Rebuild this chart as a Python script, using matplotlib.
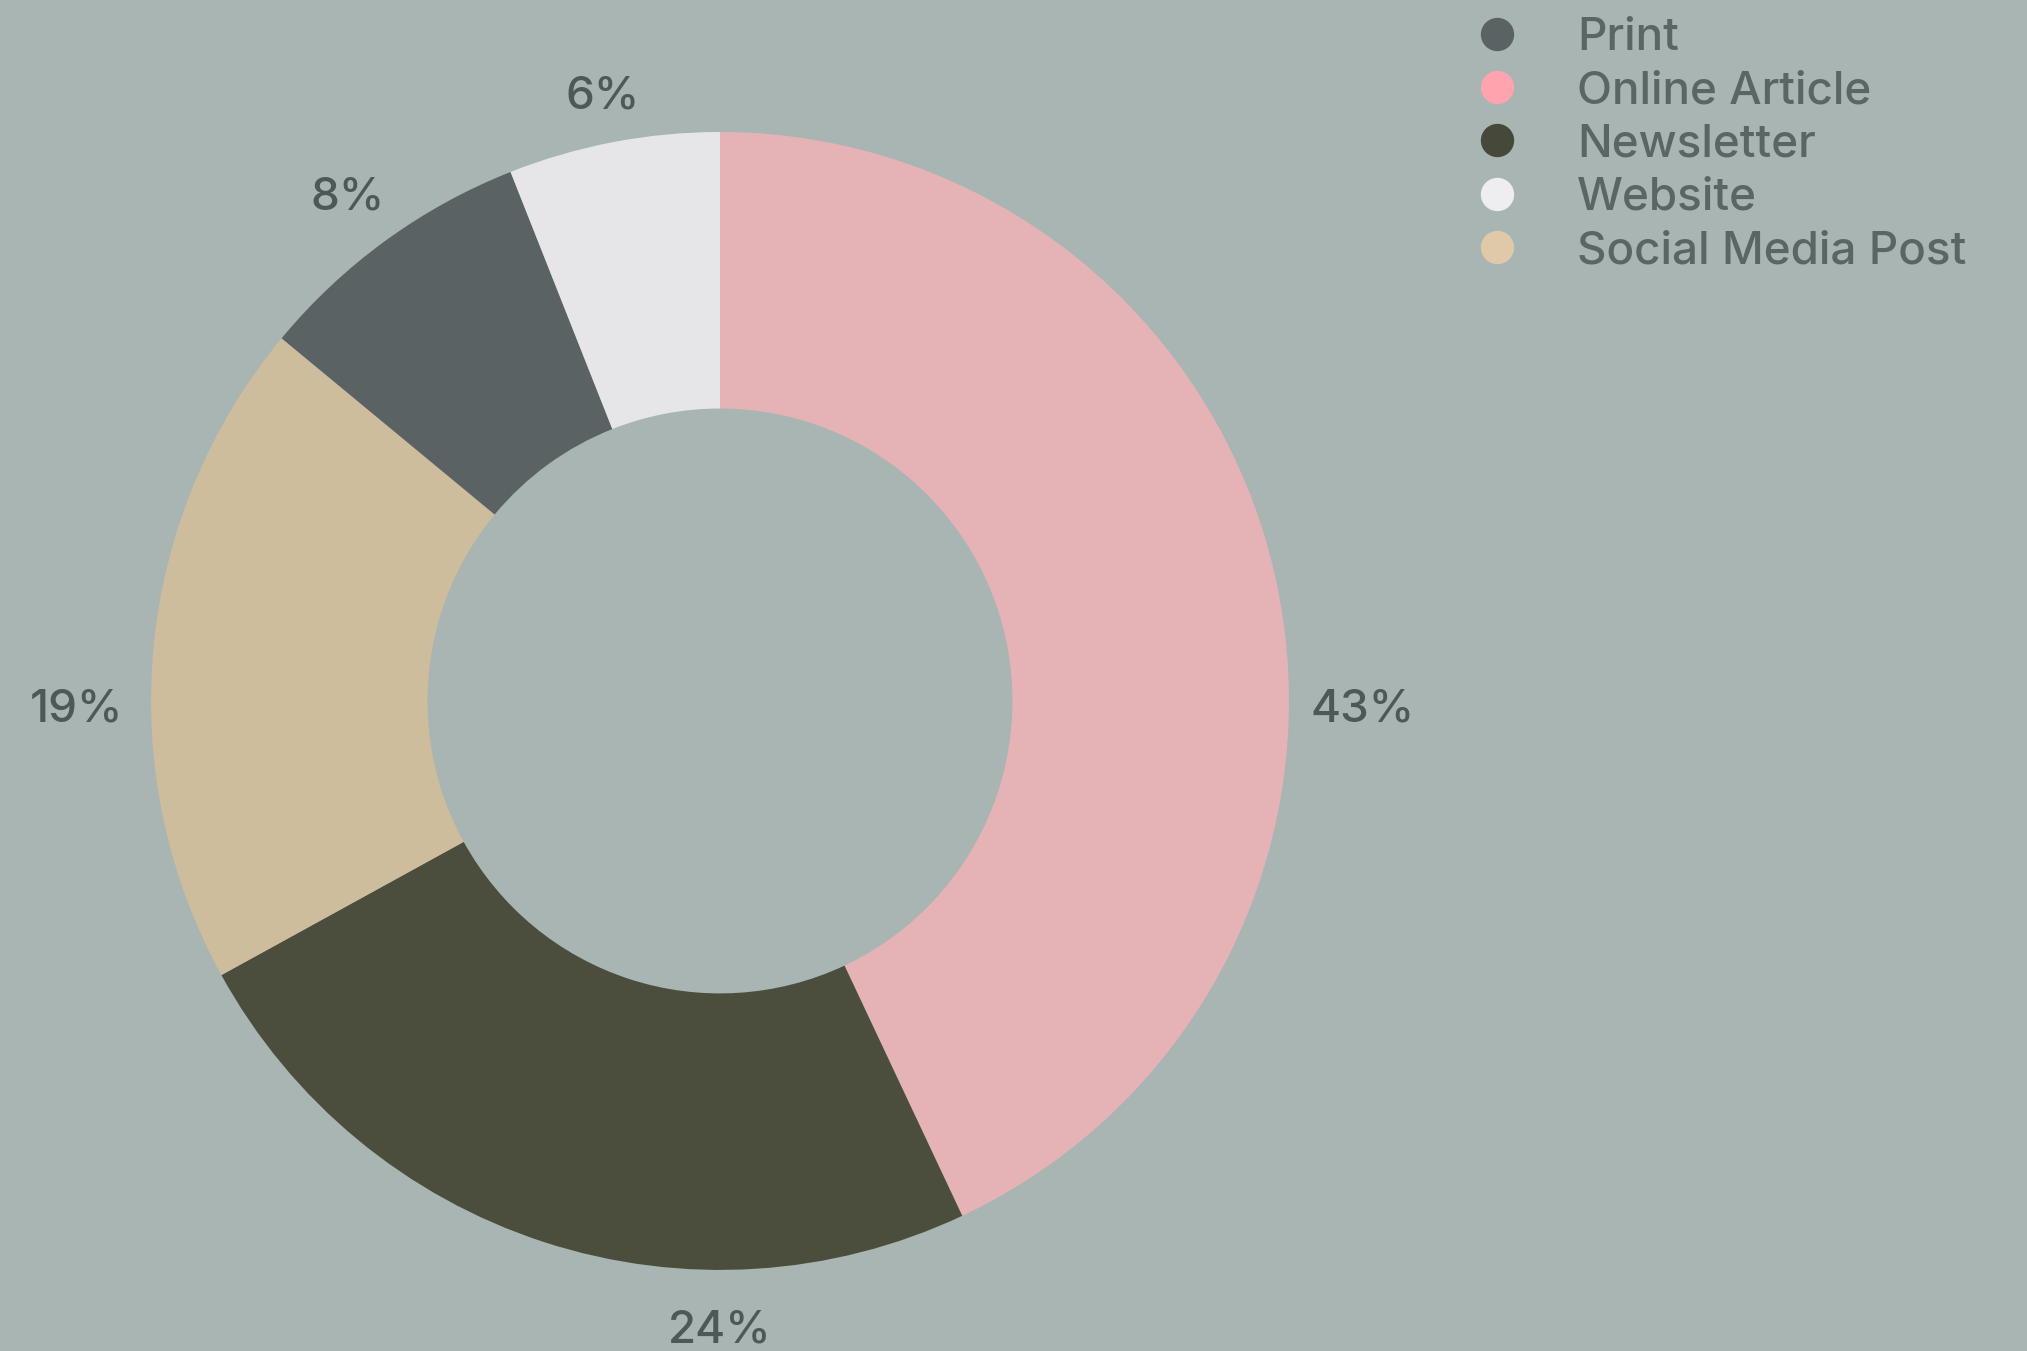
import numpy as np
import matplotlib.pyplot as plt
from matplotlib.lines import Line2D

# slices in drawing order (clockwise from 12 o'clock)
slice_labels = ['Online Article', 'Newsletter', 'Social Media Post', 'Print', 'Website']
slice_values = [43, 24, 19, 8, 6]
slice_colors = ['#e5b3b6', '#4b4e3d', '#cdbd9d', '#5b6264', '#e6e6e8']

# legend order and marker colours
legend_labels = ['Print', 'Online Article', 'Newsletter', 'Website', 'Social Media Post']
legend_colors = ['#5a6264', '#ffa3ae', '#46483a', '#eeeef0', '#e0c9a8']

bg = '#a9b5b2'
text_col = '#4e5858'

plt.rcParams['font.family'] = ['Inter', 'DejaVu Sans']

fig = plt.figure(figsize=(20.27, 13.51), dpi=100)
fig.patch.set_facecolor(bg)

ax = fig.add_axes([0.0745, 0.06, 0.5614, 0.8423])
ax.set_facecolor(bg)
wedges, _ = ax.pie(
    slice_values, colors=slice_colors, startangle=90, counterclock=False,
    radius=1.0, wedgeprops=dict(width=0.486, linewidth=0))
ax.set_xlim(-1, 1)
ax.set_ylim(-1, 1)
ax.set_aspect('equal')
ax.axis('off')

# percentage labels: snap to a quarter direction if the slice covers one,
# otherwise use the middle of the slice (angles clockwise from top)
total = sum(slice_values)
start = 0.0
for v in slice_values:
    span = 360.0 * v / total
    end = start + span
    quarters = [q for q in (0, 90, 180, 270) if start < q < end]
    ang = quarters[0] if quarters else start + span / 2
    rad = np.deg2rad(ang)
    r = 1.09 + 0.04 * abs(np.sin(rad))
    ax.annotate(f'{v / total * 100:.0f}%', (r * np.sin(rad), r * np.cos(rad)),
                xytext=(0, -6.5), textcoords='offset points',
                ha='center', va='center', color=text_col, fontsize=33,
                fontweight='medium', annotation_clip=False)
    start = end

handles = [Line2D([0], [0], marker='o', linestyle='none', markersize=24,
                  markerfacecolor=c, markeredgewidth=0) for c in legend_colors]
leg = fig.legend(handles, legend_labels, loc='upper left',
                 bbox_to_anchor=(0.7114, 1.0115), frameon=False,
                 fontsize=33, labelspacing=0.25, handletextpad=1.245,
                 handlelength=1.0, borderpad=0.2)
for t in leg.get_texts():
    t.set_color('#5b6566')
    t.set_fontweight('medium')

fig.savefig('out.png', dpi=100, facecolor=bg)
